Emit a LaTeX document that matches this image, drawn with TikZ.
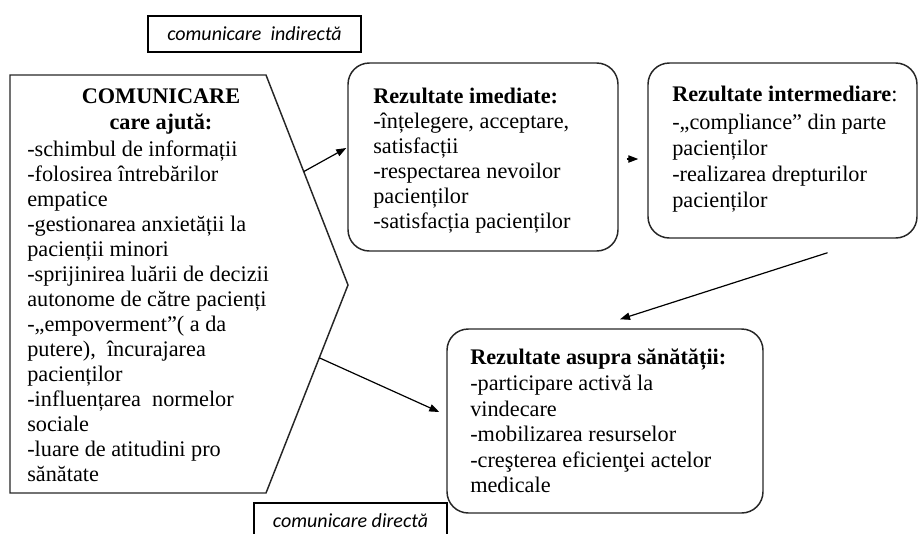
\documentclass[tikz,border=0pt]{standalone}
\usepackage{fontspec}
\setmainfont{Liberation Serif}
\newfontfamily\tagfont{Carlito}
\usetikzlibrary{positioning, arrows.meta, calc}

\tikzset{
  resbox/.style={draw=black!85, line width=1.1pt, rounded corners=16pt, inner sep=0pt},
  tagbox/.style={draw=black, line width=1pt, inner sep=0pt, font=\tagfont\itshape\fontsize{15}{17}\selectfont},
  commshape/.style={draw=black!85, line width=1.1pt},
  bodytext/.style={inner sep=0pt, align=left, anchor=north west, font=\fontsize{16.7}{18.75}\selectfont},
  arr/.style={-{Triangle[length=7.5pt,width=5.5pt]}, line width=0.9pt},
}

\begin{document}
\begin{tikzpicture}[x=0.75pt, y=-0.75pt]
    \clip (0,0) rectangle (920,533);
    % left shape
    \coordinate (p1) at (10,75);
    \coordinate (p2) at (266,75);
    \coordinate (p3) at (348,285);
    \coordinate (p4) at (266,493);
    \coordinate (p5) at (10,493);
    \draw[commshape] (p1) -- (p2) -- (p3) -- (p4) -- (p5) -- cycle;
    \node[bodytext, anchor=north, align=center, font=\bfseries\fontsize{16.7}{18.75}\selectfont] (commtitle) at (161,88.5) {COMUNICARE\\[1pt]care ajută:};
    \node[bodytext] (commtext) at (27,141) {-schimbul de informații\\-folosirea întrebărilor\\empatice\\-gestionarea anxietății la\\pacienții minori\\-sprijinirea luării de decizii\\autonome de către pacienți\\-„empoverment”( a da\\putere),\ \ încurajarea\\pacienților\\-influențarea\ \ normelor\\sociale\\-luare de atitudini pro\\sănătate};

    % result boxes
    \node[resbox, minimum width=202.5pt, minimum height=141pt] (imed) at (483,157) {};
    \node[resbox, minimum width=201.75pt, minimum height=131.25pt] (interm) at (782.5,150.5) {};
    \node[resbox, minimum width=237pt, minimum height=138pt] (sanat) at (605,421) {};
    \node[bodytext] (imedtext) at (373,88) {\textbf{Rezultate imediate:}\\-înțelegere, acceptare,\\satisfacții\\-respectarea nevoilor\\pacienților\\-satisfacția pacienților};
    \node[bodytext, font=\fontsize{16.7}{19.5}\selectfont] (intermtext) at (672,85.5) {\textbf{Rezultate intermediare}:\\[1.5pt]-„compliance” din parte\\pacienților\\-realizarea drepturilor\\pacienților};
    \node[bodytext, font=\fontsize{16.7}{19.2}\selectfont] (sanattext) at (470,349) {\textbf{Rezultate asupra sănătății:}\\-participare activă la\\vindecare\\-mobilizarea resurselor\\-creşterea eficienţei actelor\\medicale};

    % tags
    \node[tagbox, minimum width=159.75pt, minimum height=27pt] (tagind) at (254.5,34) {comunicare\ \ indirectă};
    \node[tagbox, minimum width=144.75pt, minimum height=27pt] (tagdir) at (350.5,521) {comunicare directă};

    % arrows
    \coordinate (a1s) at ($(p2)!0.46!(p3)$);
    \coordinate (a4s) at ($(p3)!0.35!(p4)$);
    \draw[arr] (a1s) -- ($(imed.west)+(-1,-9)$);
    \draw[arr] ($(imed.east)+(8,2)$) -- ($(interm.west)+(-9,8.5)$);
    \draw[arr] ($(interm.south)+(45,14)$) -- ($(sanat.north)+(15,-9)$);
    \draw[arr] (a4s) -- ($(sanat.west)+(-7,-9)$);
\end{tikzpicture}
\end{document}
